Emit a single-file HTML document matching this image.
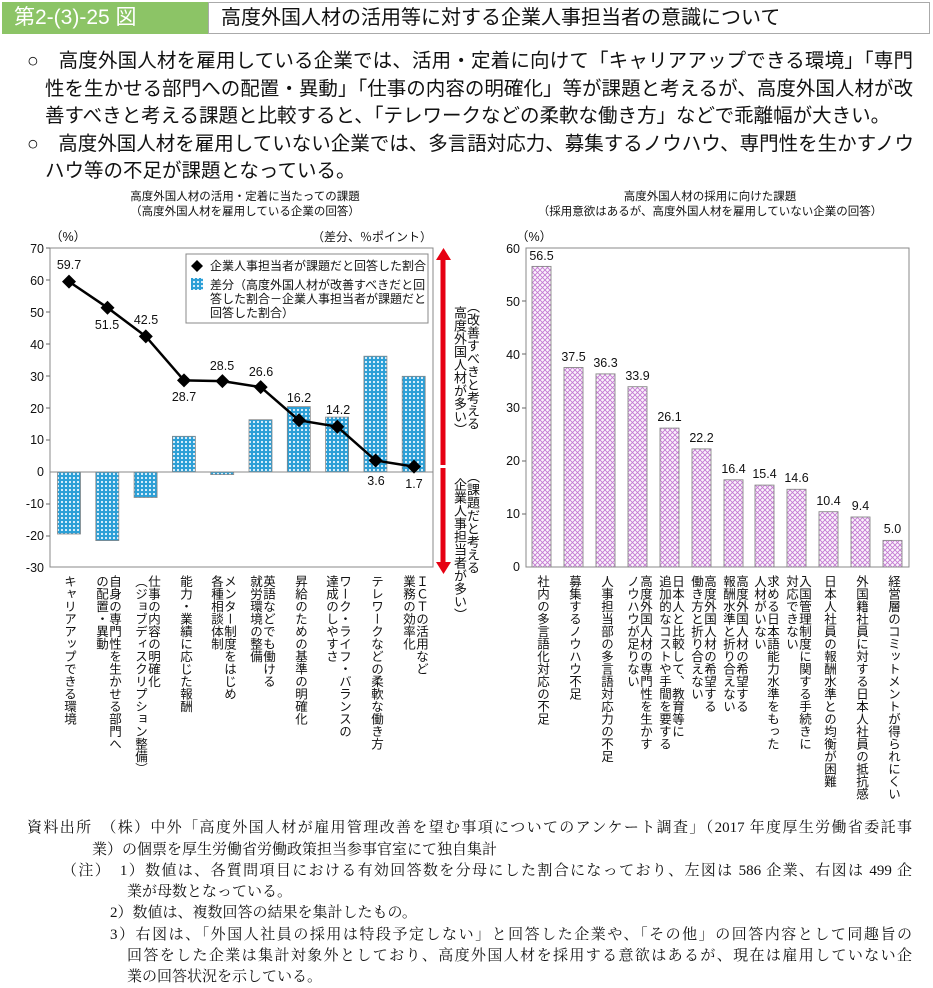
<!DOCTYPE html>
<html><head><meta charset="utf-8">
<style>
*{margin:0;padding:0;box-sizing:border-box}
body{width:933px;height:985px;background:#fff;position:relative;overflow:hidden;font-family:"Liberation Sans","Noto Sans CJK JP",sans-serif;color:#111}
.abs{position:absolute;white-space:nowrap}
.bl{position:absolute;font-size:19.5px;line-height:27px;white-space:nowrap;text-align:justify;text-align-last:justify}
.ft{position:absolute;font-family:"Liberation Serif","Noto Serif CJK SC",serif;font-size:15px;line-height:21px;white-space:nowrap;text-align:justify;text-align-last:justify}
.v{position:absolute;writing-mode:vertical-rl;font-size:12.5px;line-height:13px;white-space:nowrap}
</style></head><body>
<div class="abs" style="left:2px;top:2px;width:206px;height:32px;background:#8cc466;color:#fff;font-size:21px;line-height:32px;padding-left:12px">第2-(3)-25 図</div>
<div class="abs" style="left:208px;top:2px;width:722px;height:32px;border:1px solid #aaa;font-size:20px;line-height:30px;padding-left:12px">高度外国人材の活用等に対する企業人事担当者の意識について</div>

<div class="bl" style="left:27px;top:48px;width:886px">○　高度外国人材を雇用している企業では、活用・定着に向けて「キャリアアップできる環境」「専門</div>
<div class="bl" style="left:45px;top:76px;width:868px">性を生かせる部門への配置・異動」「仕事の内容の明確化」等が課題と考えるが、高度外国人材が改</div>
<div class="bl" style="left:45px;top:103px;width:825px">善すべきと考える課題と比較すると、「テレワークなどの柔軟な働き方」などで乖離幅が大きい。</div>
<div class="bl" style="left:27px;top:131px;width:886px">○　高度外国人材を雇用していない企業では、多言語対応力、募集するノウハウ、専門性を生かすノウ</div>
<div class="bl" style="left:45px;top:158px;text-align-last:left">ハウ等の不足が課題となっている。</div>

<div class="abs" style="left:45px;top:190px;width:400px;text-align:center;font-size:11.5px;line-height:15px">高度外国人材の活用・定着に当たっての課題<br>（高度外国人材を雇用している企業の回答）</div>
<div class="abs" style="left:510px;top:190px;width:400px;text-align:center;font-size:11.5px;line-height:15px">高度外国人材の採用に向けた課題<br>（採用意欲はあるが、高度外国人材を雇用していない企業の回答）</div>

<svg class="abs" style="left:0;top:0" width="933" height="985" font-family="Liberation Sans, Noto Sans CJK JP, sans-serif">
<defs>
<pattern id="dots" width="4" height="4" patternUnits="userSpaceOnUse"><rect width="4" height="4" fill="#2b9fd6"/><circle cx="2" cy="2" r="1.1" fill="#e8f6ff"/></pattern>
<pattern id="hatch" width="5" height="5" patternUnits="userSpaceOnUse"><rect width="5" height="5" fill="#fbf4fc"/><path d="M0 0L5 5M5 0L0 5" stroke="#c47ad3" stroke-width="0.9"/></pattern>
</defs>
<g font-size="12.5" fill="#111">
<text x="50" y="241">（%）</text>
<text x="432" y="241" text-anchor="end" font-size="12">（差分、％ポイント）</text>
<text x="44" y="253" text-anchor="end">70</text><text x="44" y="285" text-anchor="end">60</text><text x="44" y="317" text-anchor="end">50</text><text x="44" y="349" text-anchor="end">40</text><text x="44" y="381" text-anchor="end">30</text><text x="44" y="413" text-anchor="end">20</text><text x="44" y="444" text-anchor="end">10</text><text x="44" y="476" text-anchor="end">0</text><text x="44" y="508" text-anchor="end">-10</text><text x="44" y="540" text-anchor="end">-20</text><text x="44" y="572" text-anchor="end">-30</text>
</g>
<rect x="50" y="248" width="383" height="319" fill="none" stroke="#888"/>
<g stroke="#666"><line x1="46" y1="248" x2="50" y2="248"/><line x1="46" y1="280" x2="50" y2="280"/><line x1="46" y1="312" x2="50" y2="312"/><line x1="46" y1="344" x2="50" y2="344"/><line x1="46" y1="376" x2="50" y2="376"/><line x1="46" y1="408" x2="50" y2="408"/><line x1="46" y1="440" x2="50" y2="440"/><line x1="46" y1="504" x2="50" y2="504"/><line x1="46" y1="536" x2="50" y2="536"/></g>
<g fill="url(#dots)" stroke="#888" stroke-width="0.8">
<rect x="57.5" y="472" width="23" height="62"/>
<rect x="95.8" y="472" width="23" height="68.6"/>
<rect x="134.1" y="472" width="23" height="25.5"/>
<rect x="172.4" y="436.3" width="23" height="35.7"/>
<rect x="210.7" y="472" width="23" height="2.6"/>
<rect x="249" y="419.7" width="23" height="52.3"/>
<rect x="287.3" y="406.6" width="23" height="65.4"/>
<rect x="325.6" y="417.1" width="23" height="54.9"/>
<rect x="363.9" y="356.2" width="23" height="115.8"/>
<rect x="402.2" y="376.3" width="23" height="95.7"/>
</g>
<line x1="50" y1="472" x2="433" y2="472" stroke="#888"/>
<polyline fill="none" stroke="#000" stroke-width="2.5" points="69,281.6 107.5,307.7 145.8,336.4 184,380.4 222.4,381.1 260.7,387.1 299,420.3 337.3,426.7 375.6,460.5 414,466.6"/>
<g fill="#000">
<path d="M69 274.6l7 7-7 7-7-7z"/><path d="M107.5 300.7l7 7-7 7-7-7z"/><path d="M145.8 329.4l7 7-7 7-7-7z"/><path d="M184 373.4l7 7-7 7-7-7z"/><path d="M222.4 374.1l7 7-7 7-7-7z"/><path d="M260.7 380.1l7 7-7 7-7-7z"/><path d="M299 413.3l7 7-7 7-7-7z"/><path d="M337.3 419.7l7 7-7 7-7-7z"/><path d="M375.6 453.5l7 7-7 7-7-7z"/><path d="M414 459.6l7 7-7 7-7-7z"/>
</g>
<g font-size="12.5" text-anchor="middle" fill="#111">
<text x="69" y="269">59.7</text><text x="107" y="329">51.5</text><text x="146" y="324">42.5</text><text x="184" y="401">28.7</text><text x="222" y="370">28.5</text><text x="261" y="376">26.6</text><text x="299" y="402">16.2</text><text x="338" y="414">14.2</text><text x="376" y="485">3.6</text><text x="414" y="488">1.7</text>
</g>
<rect x="186" y="254" width="242" height="69" fill="#fff" stroke="#888"/>
<path d="M197 260l6 6-6 6-6-6z" fill="#000"/>
<rect x="191" y="278" width="12" height="12" fill="url(#dots)"/>
<g font-size="12" fill="#111">
<text x="210" y="270">企業人事担当者が課題だと回答した割合</text>
<text x="210" y="289">差分（高度外国人材が改善すべきだと回</text>
<text x="210" y="303">答した割合－企業人事担当者が課題だと</text>
<text x="210" y="317">回答した割合）</text>
</g>
<g fill="#e60012">
<rect x="440.5" y="258" width="5" height="207"/><path d="M436 260l7.5-12 7.5 12z"/>
<rect x="440.5" y="468" width="5" height="96"/><path d="M436 562l7.5 12 7.5-12z"/>
</g>

<g font-size="12.5" fill="#111">
<text x="516" y="241">（%）</text>
<text x="520" y="253" text-anchor="end">60</text><text x="520" y="306" text-anchor="end">50</text><text x="520" y="359" text-anchor="end">40</text><text x="520" y="412" text-anchor="end">30</text><text x="520" y="465" text-anchor="end">20</text><text x="520" y="518" text-anchor="end">10</text><text x="520" y="571" text-anchor="end">0</text>
</g>
<rect x="526" y="248" width="383" height="319" fill="none" stroke="#888"/>
<g stroke="#666"><line x1="522" y1="301" x2="526" y2="301"/><line x1="522" y1="354" x2="526" y2="354"/><line x1="522" y1="408" x2="526" y2="408"/><line x1="522" y1="461" x2="526" y2="461"/><line x1="522" y1="514" x2="526" y2="514"/></g>
<g fill="url(#hatch)" stroke="#888" stroke-width="0.9">
<rect x="532" y="266.4" width="19" height="300.6"/>
<rect x="564" y="367.5" width="19" height="199.5"/>
<rect x="596" y="373.9" width="19" height="193.1"/>
<rect x="628" y="386.7" width="19" height="180.3"/>
<rect x="660" y="428.1" width="19" height="138.9"/>
<rect x="692" y="448.9" width="19" height="118.1"/>
<rect x="724" y="479.8" width="19" height="87.2"/>
<rect x="755" y="485.1" width="19" height="81.9"/>
<rect x="787" y="489.3" width="19" height="77.7"/>
<rect x="819" y="511.7" width="19" height="55.3"/>
<rect x="851" y="517" width="19" height="50"/>
<rect x="883" y="540.4" width="19" height="26.6"/>
</g>
<g font-size="12.5" text-anchor="middle" fill="#111">
<text x="541.5" y="260">56.5</text><text x="573.5" y="361">37.5</text><text x="605.5" y="367">36.3</text><text x="637.5" y="380">33.9</text><text x="669.5" y="421">26.1</text><text x="701.5" y="442">22.2</text><text x="733.5" y="473">16.4</text><text x="764.5" y="478">15.4</text><text x="796.5" y="482">14.6</text><text x="828.5" y="505">10.4</text><text x="860.5" y="510">9.4</text><text x="892.5" y="533">5.0</text>
</g>
</svg>

<div class="v" style="left:466px;top:300px;font-size:13px">（改善すべきと考える</div>
<div class="v" style="left:453px;top:306px;font-size:13px">高度外国人材が多い）</div>
<div class="v" style="left:466px;top:470px;font-size:13px">（課題だと考える</div>
<div class="v" style="left:453px;top:478px;font-size:13px">企業人事担当者が多い）</div>

<div class="v" style="left:62px;top:575px">キャリアアップできる環境</div>
<div class="v" style="left:94px;top:575px;width:26px">自身の専門性を生かせる部門へ<br>の配置・異動</div>
<div class="v" style="left:133px;top:575px;width:26px">仕事の内容の明確化<br>（ジョブディスクリプション整備）</div>
<div class="v" style="left:178px;top:575px">能力・業績に応じた報酬</div>
<div class="v" style="left:209px;top:575px;width:26px">メンター制度をはじめ<br>各種相談体制</div>
<div class="v" style="left:248px;top:575px;width:26px">英語などでも働ける<br>就労環境の整備</div>
<div class="v" style="left:293px;top:575px">昇給のための基準の明確化</div>
<div class="v" style="left:324px;top:575px;width:26px">ワーク・ライフ・バランスの<br>達成のしやすさ</div>
<div class="v" style="left:369px;top:575px">テレワークなどの柔軟な働き方</div>
<div class="v" style="left:401px;top:575px;width:26px">ＩＣＴの活用など<br>業務の効率化</div>

<div class="v" style="left:535px;top:575px">社内の多言語化対応の不足</div>
<div class="v" style="left:567px;top:575px">募集するノウハウ不足</div>
<div class="v" style="left:599px;top:575px">人事担当部の多言語対応力の不足</div>
<div class="v" style="left:625px;top:575px;width:26px">高度外国人材の専門性を生かす<br>ノウハウが足りない</div>
<div class="v" style="left:657px;top:575px;width:26px">日本人と比較して、教育等に<br>追加的なコストや手間を要する</div>
<div class="v" style="left:689px;top:575px;width:26px">高度外国人材の希望する<br>働き方と折り合えない</div>
<div class="v" style="left:721px;top:575px;width:26px">高度外国人材の希望する<br>報酬水準と折り合えない</div>
<div class="v" style="left:752px;top:575px;width:26px">求める日本語能力水準をもった<br>人材がいない</div>
<div class="v" style="left:784px;top:575px;width:26px">入国管理制度に関する手続きに<br>対応できない</div>
<div class="v" style="left:822px;top:575px">日本人社員の報酬水準との均衡が困難</div>
<div class="v" style="left:854px;top:575px">外国籍社員に対する日本人社員の抵抗感</div>
<div class="v" style="left:886px;top:575px">経営層のコミットメントが得られにくい</div>

<div class="ft" style="left:27px;top:818px;width:885px">資料出所　（株）中外「高度外国人材が雇用管理改善を望む事項についてのアンケート調査」（2017 年度厚生労働省委託事</div>
<div class="ft" style="left:92px;top:840px;text-align-last:left">業）の個票を厚生労働省労働政策担当参事官室にて独自集計</div>
<div class="ft" style="left:62px;top:861px;width:850px">（注）　1）数値は、各質問項目における有効回答数を分母にした割合になっており、左図は 586 企業、右図は 499 企</div>
<div class="ft" style="left:127px;top:882px;text-align-last:left">業が母数となっている。</div>
<div class="ft" style="left:110px;top:903px;text-align-last:left">2）数値は、複数回答の結果を集計したもの。</div>
<div class="ft" style="left:110px;top:925px;width:802px">3）右図は、「外国人社員の採用は特段予定しない」と回答した企業や、「その他」の回答内容として同趣旨の</div>
<div class="ft" style="left:127px;top:946px;width:785px">回答をした企業は集計対象外としており、高度外国人材を採用する意欲はあるが、現在は雇用していない企</div>
<div class="ft" style="left:127px;top:967px;text-align-last:left">業の回答状況を示している。</div>
</body></html>
